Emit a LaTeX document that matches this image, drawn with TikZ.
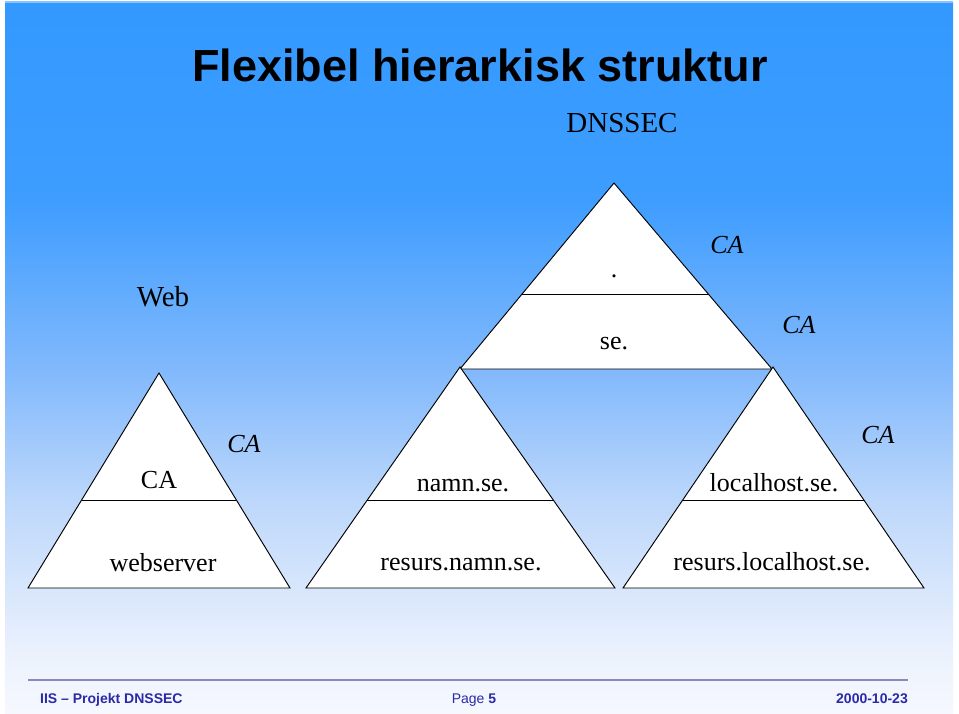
\documentclass[tikz,border=0pt]{standalone}
\usepackage{fontspec}
\setmainfont{Liberation Serif}
\newfontfamily\titlefont{Liberation Sans}
\usetikzlibrary{calc}
\definecolor{bgtop}{RGB}{51,153,255}
\definecolor{bgA}{RGB}{62,157,255}
\definecolor{bgB}{RGB}{130,185,252}
\definecolor{bgC}{RGB}{188,215,251}
\definecolor{bgD}{RGB}{236,242,253}
\definecolor{bgend}{RGB}{246,248,254}
\definecolor{footline}{RGB}{140,136,192}
\definecolor{foottext}{RGB}{42,42,168}
\pgfdeclareverticalshading{bgshade}{100bp}{color(0bp)=(bgend); color(25bp)=(bgend); color(29bp)=(bgD); color(40bp)=(bgC); color(49bp)=(bgB); color(61bp)=(bgA); color(75bp)=(bgtop); color(100bp)=(bgtop)}
\tikzset{
  tri/.style={draw=black, fill=white, line width=0.95pt, line join=miter},
  divider/.style={draw=black, line width=0.95pt},
  lbl/.style={anchor=base, inner sep=0pt, font=\fontsize{26}{26}\selectfont},
  calbl/.style={anchor=base, inner sep=0pt, font=\fontsize{26}{26}\selectfont\itshape},
  foot/.style={anchor=base, inner sep=0pt, text=foottext, font=\titlefont\fontsize{14}{14}\selectfont},
}
\begin{document}
\begin{tikzpicture}[x=1pt, y=-1pt]
\useasboundingbox (0,0) rectangle (959,713);
\fill[white] (0,0) rectangle (959,713);
\shade[shading=bgshade] (5,2) rectangle (953,713);
\fill[bgtop!60!white] (5,1) rectangle (953,3);

% title
\node[anchor=base, inner sep=0pt, font=\titlefont\bfseries\fontsize{45}{45}\selectfont] (title) at (480,81) {Flexibel hierarkisk struktur};
\node[anchor=base, inner sep=0pt, font=\fontsize{29}{29}\selectfont] (dnssec) at (622,132) {DNSSEC};
\node[anchor=base, inner sep=0pt, font=\fontsize{29}{29}\selectfont] (web) at (163,306) {Web};

% big triangle
\coordinate (Ta) at (614,183);
\coordinate (Tl) at (460,369);
\coordinate (Tr) at (772,369);
\path[tri] (Ta) -- (Tl) -- (Tr) -- cycle;
\draw[divider] ($(Ta)!0.597!(Tl)$) -- ($(Ta)!0.597!(Tr)$);

% left triangle
\coordinate (La) at (159,373);
\coordinate (Ll) at (28,588);
\coordinate (Lr) at (290,588);
\path[tri] (La) -- (Ll) -- (Lr) -- cycle;
\draw[divider] ($(La)!0.591!(Ll)$) -- ($(La)!0.591!(Lr)$);

% middle triangle
\coordinate (Ma) at (460,367);
\coordinate (Ml) at (306,588);
\coordinate (Mr) at (615,588);
\path[tri] (Ma) -- (Ml) -- (Mr) -- cycle;
\draw[divider] ($(Ma)!0.602!(Ml)$) -- ($(Ma)!0.602!(Mr)$);

% right triangle
\coordinate (Ra) at (773,367);
\coordinate (Rl) at (623,588);
\coordinate (Rr) at (924,588);
\path[tri] (Ra) -- (Rl) -- (Rr) -- cycle;
\draw[divider] ($(Ra)!0.602!(Rl)$) -- ($(Ra)!0.602!(Rr)$);

% labels
\node[lbl] (root) at (614,277) {.};
\node[lbl] (se) at (614,349) {se.};
\node[calbl] (ca1) at (727,253) {CA};
\node[calbl] (ca2) at (799,333) {CA};
\node[calbl] (ca3) at (244,452) {CA};
\node[calbl] (ca4) at (878,443) {CA};
\node[lbl] (caL) at (159,488) {CA};
\node[lbl] (webserver) at (163,571) {webserver};
\node[lbl] (namn) at (463,491) {namn.se.};
\node[lbl] (resnamn) at (461,570) {resurs.namn.se.};
\node[lbl] (local) at (774,491) {localhost.se.};
\node[lbl] (reslocal) at (772,570) {resurs.localhost.se.};

% footer
\coordinate (fl) at (28,680);
\coordinate (fr) at (908,680);
\draw[footline, line width=2pt] (fl) -- (fr);
\node[foot, anchor=base west, font=\titlefont\bfseries\fontsize{14}{14}\selectfont] (f1) at (40,703) {IIS – Projekt DNSSEC};
\node[foot] (f2) at (474,703) {Page \textbf{5}};
\node[foot, anchor=base east, font=\titlefont\bfseries\fontsize{14}{14}\selectfont] (f3) at (908,703) {2000-10-23};
\end{tikzpicture}
\end{document}
